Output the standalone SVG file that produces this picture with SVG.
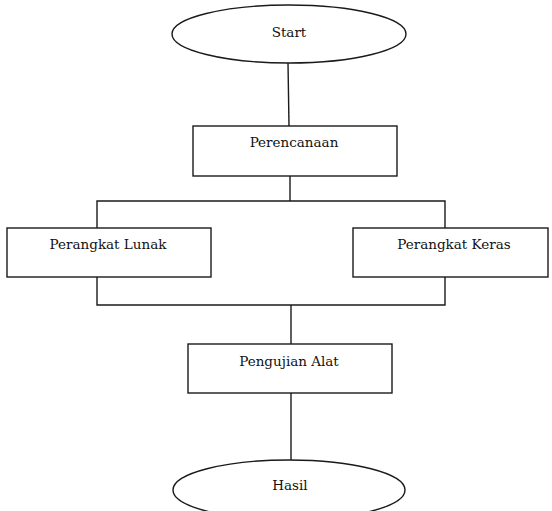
<svg xmlns="http://www.w3.org/2000/svg" width="552" height="511" viewBox="0 0 552 511">
  <style>
    .shape { fill: #ffffff; stroke: #1a1a1a; stroke-width: 1.4; }
    .link { fill: none; stroke: #1a1a1a; stroke-width: 1.4; }
    .label { font-family: "DejaVu Serif", "Liberation Serif", serif; font-size: 13.5px; fill: #111111; text-anchor: middle; }
  </style>
  <rect width="552" height="511" fill="#ffffff"/>
  <g id="connectors">
    <line class="link" x1="288" y1="63" x2="289" y2="126"/>
    <line class="link" x1="290" y1="176" x2="290" y2="201"/>
    <polyline class="link" points="97,228 97,201 445,201 445,228"/>
    <polyline class="link" points="97,277 97,305 445,305 445,277"/>
    <line class="link" x1="291" y1="305" x2="291" y2="344"/>
    <line class="link" x1="291" y1="393" x2="291" y2="460"/>
  </g>
  <g id="start">
    <ellipse class="shape" cx="289" cy="34" rx="117" ry="29"/>
    <text class="label" x="289" y="37">Start</text>
  </g>
  <g id="perencanaan">
    <rect class="shape" x="193" y="126" width="204" height="50"/>
    <text class="label" x="294" y="147">Perencanaan</text>
  </g>
  <g id="perangkat-lunak">
    <rect class="shape" x="7" y="228" width="204" height="49"/>
    <text class="label" x="108" y="249">Perangkat Lunak</text>
  </g>
  <g id="perangkat-keras">
    <rect class="shape" x="353" y="228" width="195" height="49"/>
    <text class="label" x="454" y="249">Perangkat Keras</text>
  </g>
  <g id="pengujian-alat">
    <rect class="shape" x="188" y="344" width="204" height="49"/>
    <text class="label" x="289" y="366">Pengujian Alat</text>
  </g>
  <g id="hasil">
    <ellipse class="shape" cx="289" cy="490" rx="116" ry="30"/>
    <text class="label" x="290" y="490">Hasil</text>
  </g>
</svg>
